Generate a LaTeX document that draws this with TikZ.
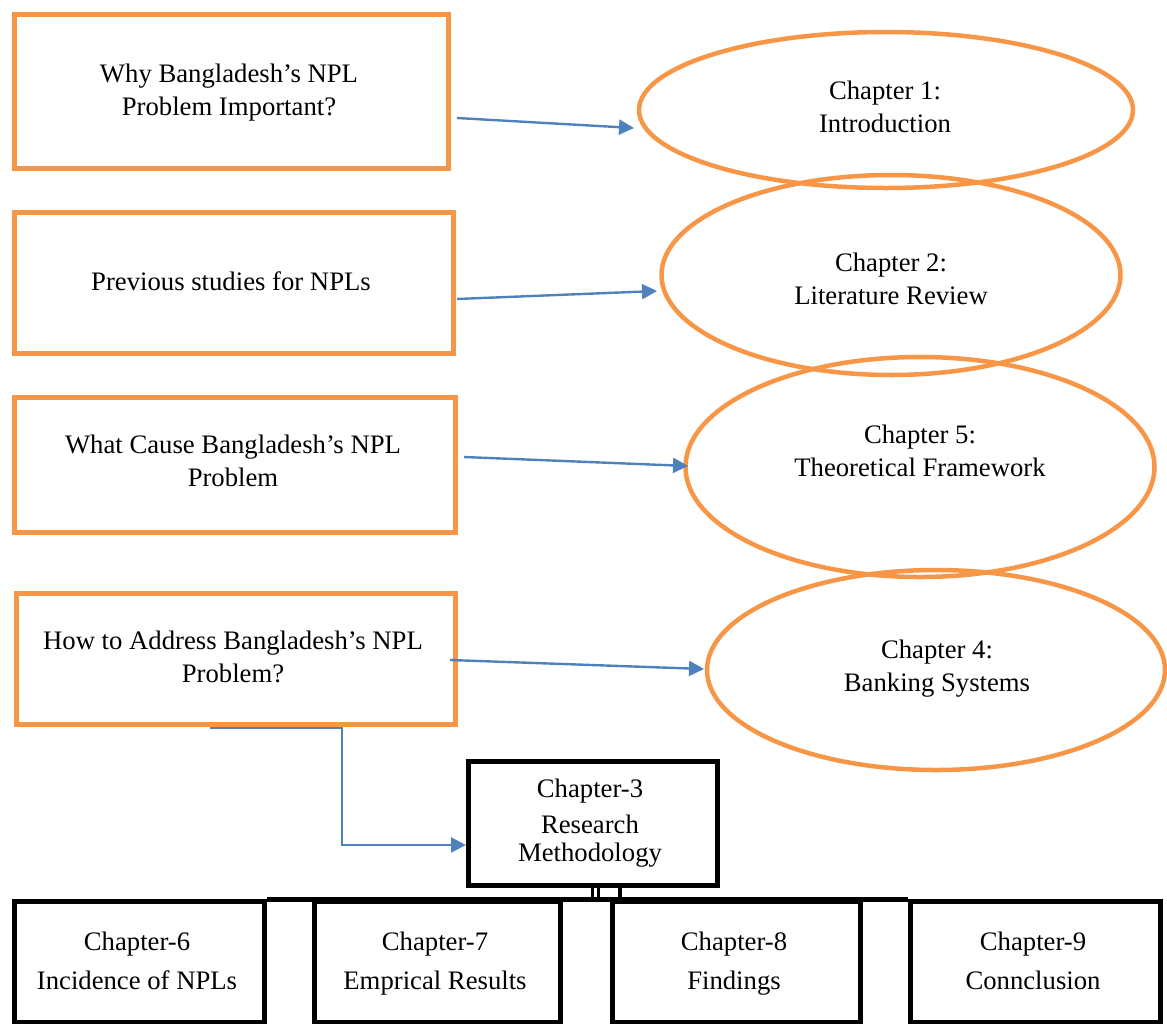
\documentclass[tikz,border=0pt]{standalone}
\usepackage{fontspec}
\setmainfont{Liberation Serif}
\usetikzlibrary{shapes.geometric,arrows.meta}
\definecolor{boxorange}{HTML}{F79646}
\definecolor{linkblue}{HTML}{4F81BD}
\tikzset{
  txt/.style={font=\fontsize{26.7}{33}\selectfont, align=center, inner sep=0pt},
  qbox/.style={draw=boxorange, line width=4.5pt, inner sep=0pt, anchor=north west},
  chapell/.style={ellipse, draw=boxorange, line width=4.5pt, inner sep=0pt},
  chapbox/.style={draw=black, line width=5pt, inner sep=0pt, anchor=north west},
  link/.style={draw=linkblue, line width=2.4pt, -{Triangle[length=15pt,width=15pt]}},
  bus/.style={draw=black, line width=5pt},
}
\begin{document}
\begin{tikzpicture}[x=1pt,y=-1pt]
\useasboundingbox (0,0) rectangle (1167,1023);

% question boxes
\node[qbox, minimum width=434pt, minimum height=154pt] (q1) at (12,12) {};
\node[qbox, minimum width=439pt, minimum height=141pt] (q2) at (12,210) {};
\node[qbox, minimum width=441pt, minimum height=135pt] (q3) at (12,395) {};
\node[qbox, minimum width=439pt, minimum height=131pt] (q4) at (14,591) {};
\node[txt] (q1t) at (229,92) {Why Bangladesh’s NPL\strut\\Problem Important?\strut};
\node[txt] (q2t) at (231,284) {Previous studies for NPLs\strut};
\node[txt] (q3t) at (233,463) {What Cause Bangladesh’s NPL\strut\\Problem\strut};
\node[txt] (q4t) at (233,659) {How to Address Bangladesh’s NPL\strut\\Problem?\strut};

% chapter ellipses
\node[chapell, minimum width=494pt, minimum height=156pt] (e1) at (886,110) {};
\node[chapell, minimum width=459pt, minimum height=200pt] (e2) at (891,275) {};
\node[chapell, minimum width=469pt, minimum height=220pt] (e3) at (920,467) {};
\node[chapell, minimum width=458pt, minimum height=200pt] (e4) at (936,670) {};
\node[txt] (e1t) at (885,109) {Chapter 1:\strut\\Introduction\strut};
\node[txt] (e2t) at (891,281) {Chapter 2:\strut\\Literature Review\strut};
\node[txt] (e3t) at (920,453) {Chapter 5:\strut\\Theoretical Framework\strut};
\node[txt] (e4t) at (937,668) {Chapter 4:\strut\\Banking Systems\strut};

% chapter 3 and the later chapters
\node[chapbox, minimum width=249pt, minimum height=124pt] (c3) at (466,759) {};
\node[txt, font=\fontsize{26.7}{28}\selectfont] (c3t) at (590,824) {Chapter-3\strut\\[8pt]Research\strut\\Methodology\strut};
\node[chapbox, minimum width=250pt, minimum height=121pt] (c6) at (12,899) {};
\node[chapbox, minimum width=246pt, minimum height=121pt] (c7) at (312,899) {};
\node[chapbox, minimum width=248pt, minimum height=121pt] (c8) at (610,899) {};
\node[chapbox, minimum width=250pt, minimum height=121pt] (c9) at (908,899) {};
\node[txt, font=\fontsize{26.7}{39}\selectfont] (c6t) at (137,962) {Chapter-6\strut\\Incidence of NPLs\strut};
\node[txt, font=\fontsize{26.7}{39}\selectfont] (c7t) at (435,962) {Chapter-7\strut\\Emprical Results\strut};
\node[txt, font=\fontsize{26.7}{39}\selectfont] (c8t) at (734,962) {Chapter-8\strut\\Findings\strut};
\node[txt, font=\fontsize{26.7}{39}\selectfont] (c9t) at (1033,962) {Chapter-9\strut\\Connclusion\strut};

% blue links from questions to chapters
\coordinate (s1) at (457,118);
\coordinate (s2) at (457,299);
\coordinate (s3) at (464,457);
\coordinate (s4) at (450,660);
\draw[link] (s1) -- (634,128);
\draw[link] (s2) -- (657,291);
\draw[link] (s3) -- (688,466);
\draw[link] (s4) -- (704,669);
\coordinate (s5) at (210,728);
\draw[link] (s5) -- (342,728) -- (342,845) -- (c3.west |- 0,845);

% connectors from chapter 3 to the bus along the lower row
\draw[bus] (c6.north east) -- (c9.north west);
\draw[draw=black, line width=3pt] (592,883) -- (592,899);
\draw[draw=black, line width=3pt] (598,883) -- (598,899);
\draw[draw=black, line width=4pt] (620,883) -- (620,899);
\end{tikzpicture}
\end{document}
